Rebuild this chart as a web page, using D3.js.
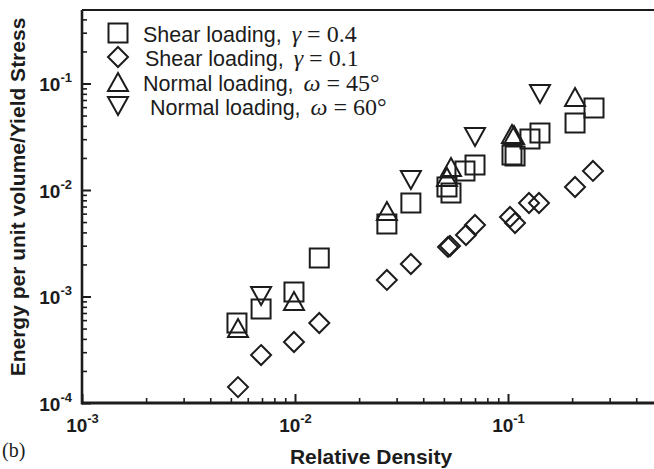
<!DOCTYPE html>
<html>
<head>
<meta charset="utf-8">
<script src="https://d3js.org/d3.v7.min.js"></script>
<style>
  body { margin: 0; background: #fff; }
  svg { display: block; }
</style>
</head>
<body>
<script>
// ---- data ----
// Shear loading, gamma = 0.4 (squares)
var sqX = [0.00534, 0.00693, 0.00989, 0.0130, 0.0270, 0.0350, 0.0517, 0.0540, 0.0628, 0.0700, 0.1044, 0.1079, 0.1268, 0.1413, 0.2064, 0.2534];
var sqY = [5.64e-4, 7.63e-4, 1.10e-3, 2.30e-3, 4.80e-3, 7.55e-3, 0.01067, 0.00937, 0.0151, 0.0172, 0.0213, 0.0209, 0.0301, 0.0343, 0.0426, 0.0589];
// Shear loading, gamma = 0.1 (diamonds)
var diX = [0.0054, 0.00693, 0.00989, 0.0130, 0.0270, 0.0350, 0.0523, 0.0534, 0.0635, 0.0700, 0.1022, 0.1079, 0.1255, 0.1398, 0.2064, 0.2506];
var diY = [1.41e-4, 2.82e-4, 3.74e-4, 5.64e-4, 1.43e-3, 2.02e-3, 2.92e-3, 2.98e-3, 3.78e-3, 4.69e-3, 5.58e-3, 4.90e-3, 7.55e-3, 7.55e-3, 0.01067, 0.0151];
// Normal loading, omega = 45 (triangles up)
var upX = [0.0054, 0.00989, 0.0270, 0.0517, 0.0540, 0.1044, 0.1067, 0.2064];
var upY = [5.06e-4, 9.07e-4, 6.35e-3, 0.01325, 0.01644, 0.0336, 0.0328, 0.0747];
// Normal loading, omega = 60 (triangles down)
var dnX = [0.00693, 0.0350, 0.0700, 0.1413];
var dnY = [1.01e-3, 0.01242, 0.0315, 0.0797];

var xMajor = [1e-3, 1e-2, 1e-1];
var xMajorExp = ["-3", "-2", "-1"];
var yMajor = [1e-4, 1e-3, 1e-2, 1e-1];
var yMajorExp = ["-4", "-3", "-2", "-1"];

var legendNames = ["Shear loading, ", "Shear loading, ", "Normal loading, ", "Normal loading, "];
var legendSym = ["\u03B3", "\u03B3", "\u03C9", "\u03C9"];
var legendVal = [" = 0.4", " = 0.1", " = 45\u00B0", " = 60\u00B0"];

//---- setup ----
var W = 654, H = 469;
var plotL = 82, plotR = 654, plotT = 10, plotB = 403;
var sans = "'Liberation Sans', Arial, Helvetica, sans-serif";
var serif = "'Liberation Serif', 'Times New Roman', serif";
var ink = "#1c1c1c";

var svg = d3.select("body").append("svg")
    .attr("width", W)
    .attr("height", H);

var x = d3.scaleLog().domain([1e-3, Math.pow(10, -1 + 146 / 213)]).range([plotL, plotR]);
var y = d3.scaleLog().domain([1e-4, Math.pow(10, -4 + 393 / 106.5)]).range([plotB, plotT]);

function minors(lo, hi) {
  var out = [];
  for (var e = lo; e < hi; e++) {
    for (var k = 2; k <= 9; k++) out.push(k * Math.pow(10, e));
  }
  return out;
}
var xMinor = minors(-3, 0).filter(function(v) { return v < x.domain()[1]; });
var yMinor = minors(-4, 0).filter(function(v) { return v < y.domain()[1]; });

// ---- axes ----
function cleanAxis(g, w) {
  g.select(".domain").remove();
  g.selectAll(".tick line").attr("stroke", ink).attr("stroke-width", w);
  g.selectAll(".tick text").remove();
}

svg.append("g")
    .attr("transform", "translate(0," + plotB + ")")
    .call(d3.axisBottom(x).tickValues(xMinor).tickSize(-5).tickFormat(""))
    .call(cleanAxis, 1.6);
var gxMaj = svg.append("g")
    .attr("transform", "translate(0," + plotB + ")")
    .call(d3.axisBottom(x).tickValues(xMajor).tickSize(-9).tickFormat(""))
    .call(cleanAxis, 2);

svg.append("g")
    .attr("transform", "translate(" + plotL + ",0)")
    .call(d3.axisLeft(y).tickValues(yMinor).tickSize(-5).tickFormat(""))
    .call(cleanAxis, 1.6);
var gyMaj = svg.append("g")
    .attr("transform", "translate(" + plotL + ",0)")
    .call(d3.axisLeft(y).tickValues(yMajor).tickSize(-9).tickFormat(""))
    .call(cleanAxis, 2);

// frame lines
svg.append("line").attr("x1", plotL).attr("x2", plotR).attr("y1", plotB).attr("y2", plotB)
    .attr("stroke", ink).attr("stroke-width", 3);
svg.append("line").attr("x1", plotL).attr("x2", plotL).attr("y1", plotT).attr("y2", plotB + 1.5)
    .attr("stroke", ink).attr("stroke-width", 2.6);
svg.append("line").attr("x1", plotL).attr("x2", plotR).attr("y1", plotT).attr("y2", plotT)
    .attr("stroke", ink).attr("stroke-width", 2);

// tick labels 10^n
gxMaj.selectAll(".tick").each(function(d, i) {
  var t = d3.select(this).append("text")
      .attr("y", 29)
      .attr("text-anchor", "middle")
      .attr("fill", ink)
      .attr("font-family", sans)
      .attr("font-weight", "bold")
      .attr("font-size", 19);
  t.append("tspan").text("10");
  t.append("tspan").attr("dy", -9).attr("font-size", 13).text(xMajorExp[i]);
});
gyMaj.selectAll(".tick").each(function(d, i) {
  var t = d3.select(this).append("text")
      .attr("x", -10)
      .attr("y", 7)
      .attr("text-anchor", "end")
      .attr("fill", ink)
      .attr("font-family", sans)
      .attr("font-weight", "bold")
      .attr("font-size", 19);
  t.append("tspan").text("10");
  t.append("tspan").attr("dy", -9).attr("font-size", 13).text(yMajorExp[i]);
});

// axis titles
svg.append("text")
    .attr("x", 371).attr("y", 464)
    .attr("text-anchor", "middle")
    .attr("fill", ink)
    .attr("font-family", sans).attr("font-weight", "bold").attr("font-size", 21)
    .text("Relative Density");
svg.append("text")
    .attr("transform", "translate(25,197) rotate(-90)")
    .attr("text-anchor", "middle")
    .attr("fill", ink)
    .attr("font-family", sans).attr("font-weight", "bold").attr("font-size", 21)
    .text("Energy per unit volume/Yield Stress");
svg.append("text")
    .attr("x", 2).attr("y", 457)
    .attr("fill", ink)
    .attr("font-family", serif).attr("font-size", 20)
    .text("(b)");

// ---- markers ----
var shapes = {
  square: "M-9.5,-9.5h19v19h-19Z",
  diamond: "M0,-10L10,0L0,10L-10,0Z",
  up: "M0,-9L10,9L-10,9Z",
  down: "M0,9L10,-9L-10,-9Z"
};
var series = [
  {shape: "square", xs: sqX, ys: sqY},
  {shape: "diamond", xs: diX, ys: diY},
  {shape: "up", xs: upX, ys: upY},
  {shape: "down", xs: dnX, ys: dnY}
];

series.forEach(function(s) {
  svg.append("g").selectAll("path")
      .data(s.xs.map(function(v, i) { return [v, s.ys[i]]; }))
      .enter()
        .append("path")
        .attr("d", shapes[s.shape])
        .attr("transform", function(d) { return "translate(" + x(d[0]) + "," + y(d[1]) + ")"; })
        .attr("fill", "none")
        .attr("stroke", ink)
        .attr("stroke-width", 2);
});

// ---- legend ----
var rowY = [33, 57, 82, 106];
var textX = [143, 145, 143, 150];
var legend = svg.append("g").selectAll("g")
    .data(series)
    .enter()
      .append("g")
      .attr("transform", function(d, i) { return "translate(0," + rowY[i] + ")"; });
legend.append("path")
    .attr("d", function(d) { return shapes[d.shape]; })
    .attr("transform", "translate(118,0)")
    .attr("fill", "none")
    .attr("stroke", ink)
    .attr("stroke-width", 2);
var lt = legend.append("text")
    .attr("x", function(d, i) { return textX[i]; })
    .attr("y", 9)
    .attr("fill", ink)
    .attr("font-family", sans)
    .attr("font-size", 21.5);
lt.append("tspan").attr("xml:space", "preserve").text(function(d, i) { return legendNames[i]; });
lt.append("tspan").attr("dx", 4).attr("font-family", serif).attr("font-style", "italic").attr("font-size", 24)
    .text(function(d, i) { return legendSym[i]; });
lt.append("tspan").attr("font-family", serif).attr("font-size", 24)
    .text(function(d, i) { return legendVal[i]; });
</script>
</body>
</html>
